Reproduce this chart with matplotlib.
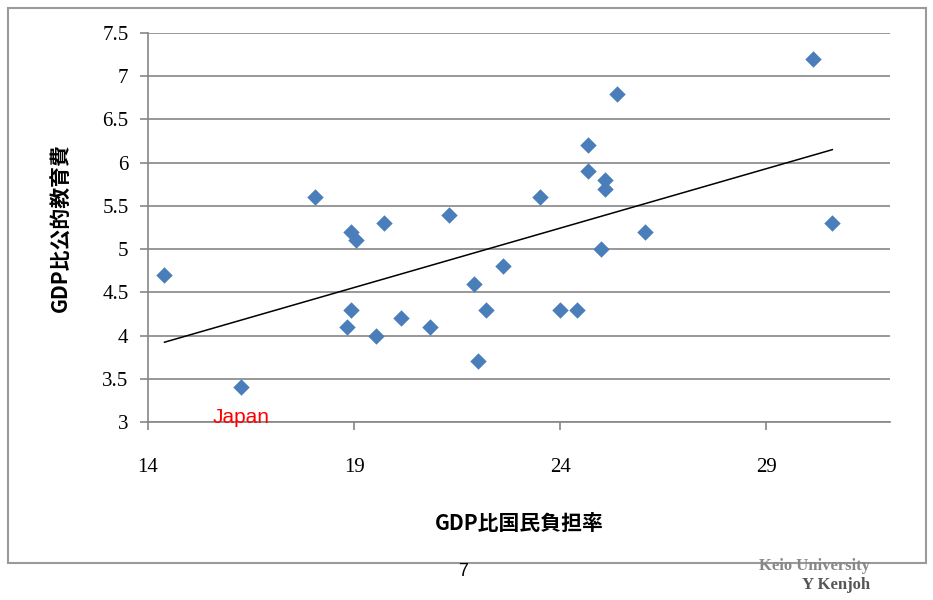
import matplotlib.pyplot as plt
from matplotlib.patches import Rectangle
import numpy as np

# GDP比国民負担率 (x) vs GDP比公的教育費 (y)
burden = [14.4, 16.25, 18.05, 18.93, 19.05, 19.73, 21.31, 22.6, 21.91, 22.2,
          18.93, 18.83, 19.54, 20.13, 20.83, 22.01, 25.37, 24.68, 24.68, 25.08,
          25.08, 23.5, 26.06, 24.98, 23.99, 24.4, 30.13, 30.6]
edu = [4.7, 3.4, 5.6, 5.2, 5.1, 5.3, 5.4, 4.8, 4.6, 4.3,
       4.3, 4.1, 4.0, 4.2, 4.1, 3.7, 6.8, 6.2, 5.9, 5.8,
       5.7, 5.6, 5.2, 5.0, 4.3, 4.3, 7.2, 5.3]
xticks = [14, 19, 24, 29]
yticks = [3, 3.5, 4, 4.5, 5, 5.5, 6, 6.5, 7, 7.5]

plt.rcParams['font.family'] = ['Noto Sans CJK JP', 'DejaVu Sans']

fig = plt.figure(figsize=(9.33, 6), dpi=100)

# chart frame
fig.patches.append(Rectangle((8/933, 1-563/600), 918/933, 555/600, transform=fig.transFigure,
                             fill=False, edgecolor='#9a9a9a', lw=1.5))

ax = fig.add_axes([148/933, 1-422/600, 742/933, 389/600])
x = np.array(burden)
y = np.array(edu)

ax.set_axisbelow(True)
ax.grid(axis='y', color='#868686', lw=1.2)
ax.scatter(x, y, marker='D', s=70, color='#4A7EBB', zorder=3, linewidths=0)

# linear trend line
k, b = np.polyfit(x, y, 1)
xs = np.array([x.min(), x.max()])
ax.plot(xs, k*xs + b, color='black', lw=1.1, zorder=2)

ax.set_xlim(14, 32)
ax.set_ylim(3, 7.5)
ax.set_xticks(xticks)
ax.set_yticks(yticks)
ax.set_xticklabels([str(t) for t in xticks], family='Liberation Serif', fontsize=15)
ax.set_yticklabels([f'{t:g}' for t in yticks], family='Liberation Serif', fontsize=15)
for s in ['top', 'right']:
    ax.spines[s].set_visible(False)
for s in ['left', 'bottom']:
    ax.spines[s].set_color('#868686')
    ax.spines[s].set_linewidth(1.2)
ax.tick_params(color='#868686', width=1.2, length=6)
ax.tick_params(axis='x', pad=20)
ax.tick_params(axis='y', pad=8)

ax.set_xlabel('GDP比国民負担率', fontsize=15, fontweight='bold', labelpad=26)
ax.set_ylabel('GDP比公的教育費', fontsize=15, fontweight='bold', labelpad=22)

ax.text(16.25, 3.05, 'Japan', color='red', fontsize=15, family='Liberation Sans',
        ha='center', va='center', zorder=4)

# slide footer
fig.text(463/933, 1-572/600, '7', fontsize=13, ha='center', va='center', family='Liberation Sans')
fig.text(870/933, 1-566/600, 'Keio University', fontsize=12, ha='right', va='center',
         family='Liberation Serif', fontweight='bold', color='#888888')
fig.text(870/933, 1-585/600, 'Y Kenjoh', fontsize=12, ha='right', va='center',
         family='Liberation Serif', fontweight='bold', color='#555555')

fig.savefig('out.png', dpi=100)
